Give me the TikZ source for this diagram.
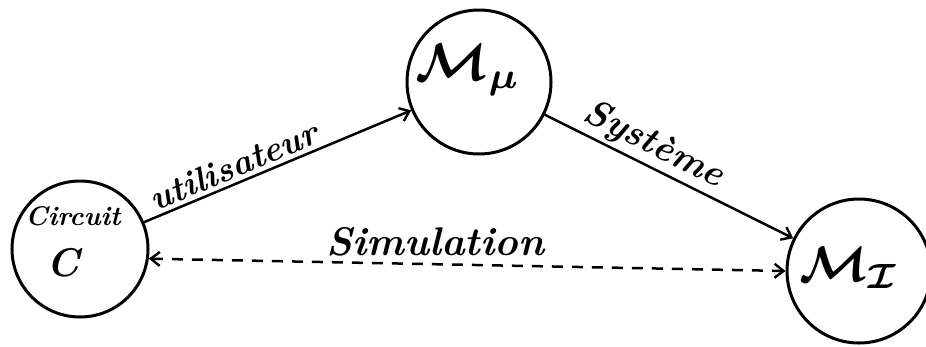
\documentclass[tikz,border=0pt]{standalone}
\usepackage{fontspec}
\usepackage{graphicx}
\usetikzlibrary{arrows.meta}
\begin{document}
\begin{tikzpicture}[x=1pt,y=-1pt,
  ring/.style={circle,draw,line width=3pt,minimum size=#1,inner sep=0pt},
  conn/.style={line width=2.5pt,-{Straight Barb[length=9pt,width=14pt,line width=2.4pt]}},
  dconn/.style={line width=2.5pt,dash pattern=on 11pt off 9pt,
     {Straight Barb[length=9pt,width=14pt,line width=2.4pt]}-{Straight Barb[length=9pt,width=14pt,line width=2.4pt]}},
  lab/.style={font=\fontsize{#1}{#1}\selectfont\bfseries\itshape,inner sep=4pt},
  mlab/.style={inner sep=0pt}
]
\useasboundingbox (0,0) rectangle (926,346);
\node[ring=136pt] (C) at (80,249) {};
\node[ring=144pt] (Mmu) at (479,82) {};
\node[ring=144pt] (MI) at (859,271) {};
\node[lab=27] (Ct1) at (73,216) {Circuit};
\node[lab=40] (Ct2) at (63,263) {C};
\node[mlab] (Mmut) at (468,70) {\scalebox{5.3}{\boldmath$\mathcal{M}_{\mu}$}};
\node[mlab] (MIt) at (849,268) {\scalebox{5}{\boldmath$\mathcal{M}_{\mathcal{I}}$}};
\draw[conn] (C) -- node[lab=35,above,sloped,pos=0.36] (l1) {utilisateur} (Mmu);
\draw[conn] (Mmu) -- node[lab=37,above,sloped,pos=0.4,inner sep=3pt] (l2) {Système} (MI);
\draw[dconn] (C.-8) -- node[lab=40,above,pos=0.45,inner sep=7pt] (l3) {Simulation} (MI.180);
\end{tikzpicture}
\end{document}
